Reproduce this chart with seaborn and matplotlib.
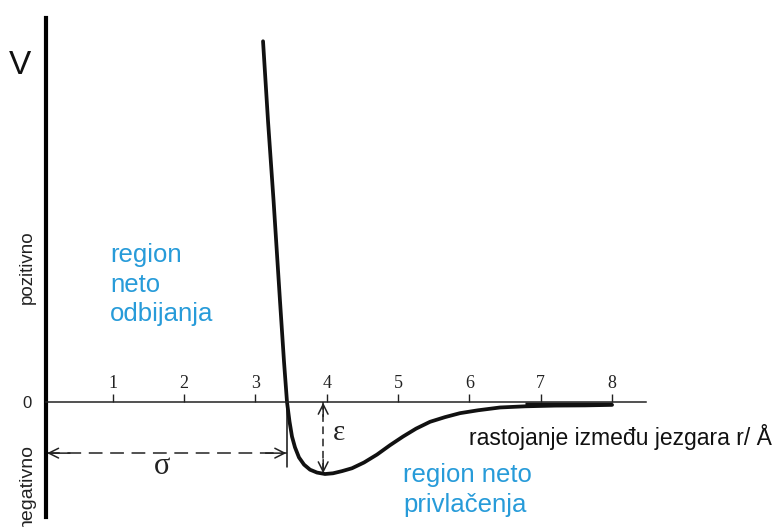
import matplotlib
matplotlib.use("Agg")
import matplotlib.pyplot as plt
import numpy as np
import pandas as pd
import seaborn as sns

# Interatomic potential V(r): r in Å, V in units of the well depth ε
r_values = [3.107, 3.177, 3.255, 3.345, 3.401, 3.443, 3.478, 3.513, 3.555,
            3.611, 3.682, 3.766, 3.864, 3.976, 4.088, 4.214, 4.354, 4.523,
            4.705, 4.887, 5.069, 5.252, 5.448, 5.658, 5.868, 6.121, 6.429,
            6.779, 7.200, 7.621, 8.000]
v_values = [5.01, 3.90, 2.79, 1.40, 0.56, 0.0, -0.27, -0.48, -0.63,
            -0.77, -0.87, -0.94, -0.98, -1.0, -0.99, -0.96, -0.92, -0.84,
            -0.73, -0.60, -0.48, -0.37, -0.275, -0.21, -0.155, -0.115, -0.076,
            -0.06, -0.05, -0.047, -0.04]

tick_positions = [1, 2, 3, 4, 5, 6, 7, 8]
tick_labels = ["1", "2", "3", "4", "5", "6", "7", "8"]

sigma = 3.443          # distance where V = 0
r_eps = 3.95           # where the well depth is marked
epsilon = 1.0          # well depth

curve = pd.DataFrame({"r": r_values, "V": v_values})

sns.set_style("white")
plt.rcParams["font.family"] = ["Liberation Sans", "DejaVu Sans"]

W, H = 774, 527
fig = plt.figure(figsize=(W / 100, H / 100), dpi=100)


def fx(px):
    return px / W


def fy(py):
    return 1 - py / H


X0, X1 = 0.0645, 10.27
ax = fig.add_axes([fx(46), fy(517), fx(774) - fx(46), fy(18) - fy(517)])
ax.set_xlim(X0, X1)
ax.set_ylim(-1.597, 5.333)
ax.set_facecolor("white")

# the potential curve
sns.lineplot(data=curve, x="r", y="V", ax=ax, sort=False, color="#111111",
             linewidth=2.7, estimator=None)
tail = curve[curve["r"] >= 6.7]
ax.fill_between(tail["r"], tail["V"], 0, color="#111111", linewidth=0)

# axes: heavy vertical V axis, thin horizontal r axis through zero
for side in ("right", "bottom"):
    ax.spines[side].set_visible(False)
ax.spines["left"].set_linewidth(3.0)
ax.spines["left"].set_color("black")
ax.spines["top"].set_position(("data", 0))
ax.spines["top"].set_bounds(X0, 8.48)
ax.spines["top"].set_linewidth(1.1)
ax.spines["top"].set_color("#222222")
ax.xaxis.tick_top()
ax.set_xticks(tick_positions)
ax.set_xticklabels(tick_labels, family=["Liberation Serif"], fontsize=13,
                   color="#222222")
ax.tick_params(axis="x", direction="out", length=6, width=1.0,
               color="#222222", pad=1.5)
ax.set_yticks([0])
ax.set_yticklabels(["0"], fontsize=12, color="#222222")
ax.tick_params(axis="y", length=0, pad=10)
ax.set_xlabel("")
ax.set_ylabel("")

head = dict(arrowstyle="->,head_length=0.7,head_width=0.35",
            color="#222222", linewidth=1.1, shrinkA=0, shrinkB=0)

# σ: vertical marker and dashed double arrow from the V axis
ax.plot([sigma, sigma], [0, -0.90], color="#111111", linewidth=1.1)
y_sig = -0.71
ax.plot([X0, sigma], [y_sig, y_sig], color="#222222", linewidth=1.1,
        dashes=(9, 5))
ax.annotate("", xy=(0.08, y_sig), xytext=(0.4, y_sig), arrowprops=head)
ax.annotate("", xy=(sigma - 0.01, y_sig), xytext=(sigma - 0.3, y_sig),
            arrowprops=head)
ax.text(1.69, -0.90, "σ", family=["Liberation Serif"], fontsize=22,
        ha="center", va="center", color="#222222")

# ε: dashed double arrow spanning the well depth
ax.plot([r_eps, r_eps], [0, -epsilon], color="#222222", linewidth=1.1,
        dashes=(5, 3))
ax.annotate("", xy=(r_eps, -0.01), xytext=(r_eps, -0.2), arrowprops=head)
ax.annotate("", xy=(r_eps, -epsilon + 0.01), xytext=(r_eps, -epsilon + 0.2),
            arrowprops=head)
ax.text(r_eps + 0.22, -0.43, "ε", family=["Liberation Serif"], fontsize=21,
        ha="center", va="center", color="#222222")

# labels around the axes
fig.text(fx(20), fy(66), "V", fontsize=24, ha="center", va="center",
         color="#111111")
fig.text(fx(27), fy(267), "pozitivno", fontsize=13.5, rotation=90,
         ha="center", va="center", color="#222222")
fig.text(fx(27), fy(444), "negativno", fontsize=14, rotation=90,
         ha="center", va="top", color="#222222")
fig.text(fx(772), fy(437), "rastojanje između jezgara r/ Å", fontsize=16.5,
         ha="right", va="center", color="#111111")

blue = "#279bd9"
fig.text(fx(110), fy(243), "region\nneto\nodbijanja", fontsize=18.5,
         ha="left", va="top", color=blue, linespacing=1.3)
fig.text(fx(403), fy(463), "region neto\nprivlačenja", fontsize=18.5,
         ha="left", va="top", color=blue, linespacing=1.3)

fig.savefig("out.png", dpi=100, facecolor="white")
